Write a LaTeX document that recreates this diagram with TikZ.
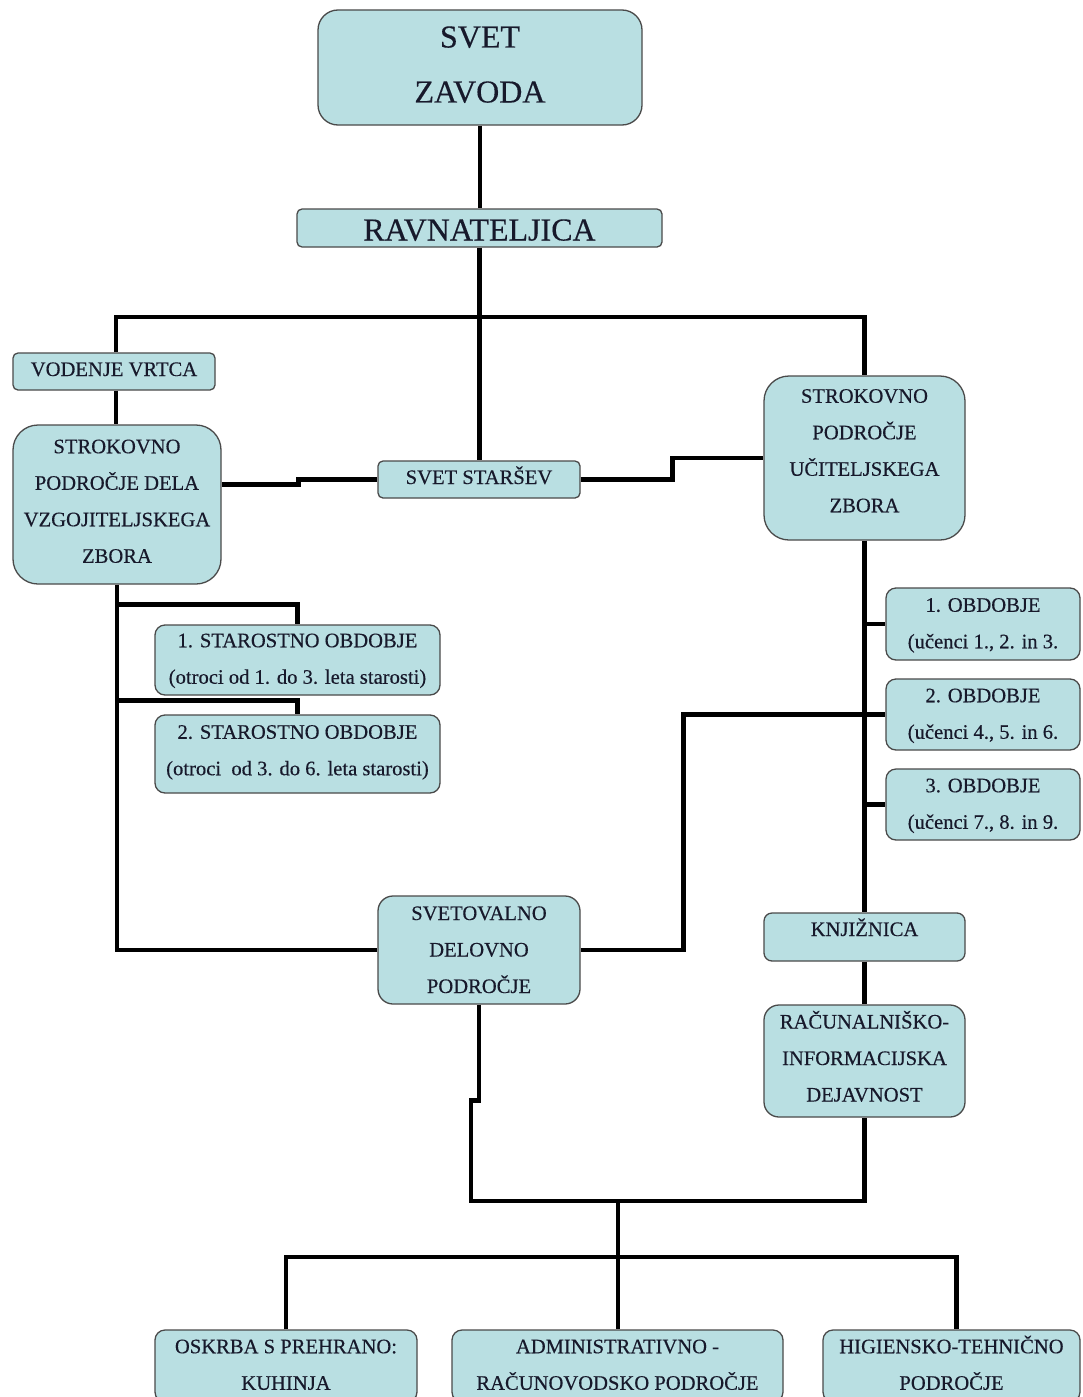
\documentclass[tikz,border=0pt]{standalone}
\usepackage{fontspec}
\setmainfont{Liberation Serif}[FakeBold=0.35]
\definecolor{boxfill}{HTML}{B9DFE2}
\definecolor{boxline}{HTML}{4A4A4A}
\definecolor{txt}{HTML}{17192B}
\newcommand\bigf{\fontsize{32pt}{55pt}\selectfont}
\newcommand\midf{\fontsize{20.6pt}{36.5pt}\selectfont}
\newcommand\Hs[1]{\rule{0pt}{#1}}
\newcommand\Ds[1]{\rule[-#1]{0pt}{#1}}
\tikzset{
  box/.style={draw=boxline, fill=boxfill, line width=1.3pt, rounded corners=#1,
    align=center, inner sep=0pt, text=txt, font=\midf},
  box/.default=8pt,
  conn/.style={line width=4.5pt, black}
}
\begin{document}
\begin{tikzpicture}[x=1pt,y=-1pt]
\useasboundingbox (0,0) rectangle (1082,1397);
\clip (0,0) rectangle (1082,1397);
\fill[white] (0,0) rectangle (1082,1397);

% nodes
\node[box=20pt, minimum width=324pt, minimum height=115pt, font=\bigf] (svet) at (480,67.5) {\Hs{30pt}SVET\\ZAVODA\Ds{15pt}};
\node[box=5pt, minimum width=365pt, minimum height=38pt, font=\bigf] (ravn) at (479.5,228) {\Hs{30pt}RAVNATELJICA\Ds{5pt}};
\node[box=5pt, minimum width=202pt, minimum height=37pt] (vod) at (114,371.5) {\Hs{20pt}VODENJE VRTCA\Ds{11pt}};
\node[box=25pt, minimum width=208pt, minimum height=159pt] (strl) at (117,504.5) {\Hs{20pt}STROKOVNO\\PODROČJE DELA\\VZGOJITELJSKEGA\\ZBORA\Ds{13pt}};
\node[box=5pt, minimum width=202pt, minimum height=37pt] (starsev) at (479,479.5) {\Hs{20pt}SVET STARŠEV\Ds{11pt}};
\node[box=25pt, minimum width=201pt, minimum height=164pt] (strr) at (864.5,458) {\Hs{20pt}STROKOVNO\\PODROČJE\\UČITELJSKEGA\\ZBORA\Ds{21pt}};
\node[box=10pt, minimum width=194pt, minimum height=72pt] (ob1) at (983,624) {\Hs{20pt}1. OBDOBJE\\(učenci 1., 2. in 3.\Ds{8pt}};
\node[box=10pt, minimum width=194pt, minimum height=71pt] (ob2) at (983,714.5) {\Hs{20pt}2. OBDOBJE\\(učenci 4., 5. in 6.\Ds{8pt}};
\node[box=10pt, minimum width=194pt, minimum height=71pt] (ob3) at (983,804.5) {\Hs{20pt}3. OBDOBJE\\(učenci 7., 8. in 9.\Ds{8pt}};
\node[box=10pt, minimum width=285pt, minimum height=70pt] (sta1) at (297.5,660) {\Hs{20pt}1. STAROSTNO OBDOBJE\\(otroci od 1. do 3. leta starosti)\Ds{9pt}};
\node[box=10pt, minimum width=285pt, minimum height=78pt] (sta2) at (297.5,754) {\Hs{20pt}2. STAROSTNO OBDOBJE\\(otroci\ \ od 3. do 6. leta starosti)\Ds{14pt}};
\node[box=15pt, minimum width=202pt, minimum height=108pt] (svetov) at (479,950) {\Hs{20pt}SVETOVALNO\\DELOVNO\\PODROČJE\Ds{7pt}};
\node[box=8pt, minimum width=201pt, minimum height=48pt] (knj) at (864.5,937) {\Hs{20pt}KNJIŽNICA\Ds{22pt}};
\node[box=15pt, minimum width=201pt, minimum height=112pt] (rac) at (864.5,1061) {\Hs{20pt}RAČUNALNIŠKO-\\INFORMACIJSKA\\DEJAVNOST\Ds{12pt}};
\node[box=10pt, minimum width=262pt, minimum height=72pt] (oskrba) at (286,1366) {\Hs{20pt}OSKRBA S PREHRANO:\\KUHINJA\Ds{9pt}};
\node[box=10pt, minimum width=331pt, minimum height=72pt] (admin) at (617.5,1366) {\Hs{20pt}ADMINISTRATIVNO -\\RAČUNOVODSKO PODROČJE\Ds{9pt}};
\node[box=10pt, minimum width=257pt, minimum height=72pt] (hig) at (951.5,1366) {\Hs{20pt}HIGIENSKO-TEHNIČNO\\PODROČJE\Ds{9pt}};

% connectors
\coordinate (bus) at (480,317);
\draw[conn] (svet.south) -- (svet.south |- ravn.north);
\draw[conn] (ravn.south) -- (ravn.south |- starsev.north);
\draw[conn] ([xshift=2pt]vod.north) |- (bus) -| (strr.north);
\draw[conn] ([xshift=2pt]vod.south) -- ([xshift=2pt]vod.south |- strl.north);
\draw[conn] ([yshift=20pt]strl.east) -- ++(77,0) |- (starsev.west);
\draw[conn] (starsev.east) -- ++(92,0) |- (strr.west);
\draw[conn] (strr.south) -- (knj.north);
\foreach \n in {ob1,ob2,ob3} \draw[conn] (strr.south |- \n.west) -- (\n.west);
\draw[conn] (svetov.east) -- ++(103,0) |- (ob2.west);
\draw[conn] (strl.south) |- (svetov.west);
\draw[conn] ([yshift=-20pt]strl.south) -| (sta1.north);
\draw[conn] ([yshift=14pt]sta2.north -| strl.south) -| (sta2.north);
\draw[conn] (knj.south) -- (rac.north);
\coordinate (j) at (618,1201);
\draw[conn] (svetov.south) -- ++(0,96) -- ++(-8,0) |- (j) -| (rac.south);
\coordinate (b2) at (618,1257);
\draw[conn] (j) -- (b2);
\draw[conn] (oskrba.north) |- (b2) -| ([xshift=5pt]hig.north);
\draw[conn] (b2) -- (b2 |- admin.north);
\end{tikzpicture}
\end{document}
